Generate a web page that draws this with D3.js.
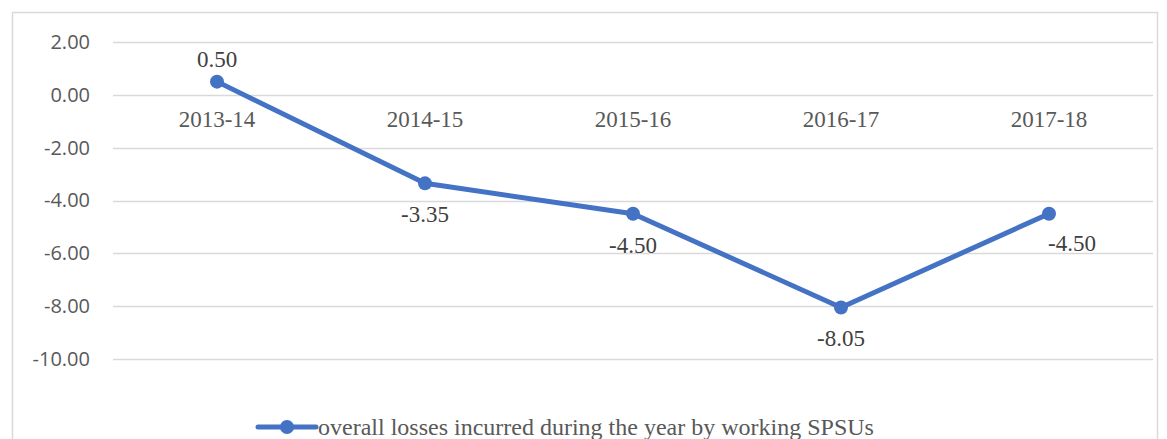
<!DOCTYPE html>
<html>
<head>
<meta charset="utf-8">
<script src="https://cdn.jsdelivr.net/npm/d3@7"></script>
<style>
  body { margin: 0; background: #fff; }
  svg { display: block; }
</style>
</head>
<body>
<div id="chart"></div>
<script>
// Chart data
const years = ["2013-14", "2014-15", "2015-16", "2016-17", "2017-18"];
const losses = [0.50, -3.35, -4.50, -8.05, -4.50];
const yTicks = [2, 0, -2, -4, -6, -8, -10];
const seriesName = "overall losses incurred during the year by working SPSUs";

const width = 1167;
const height = 439;
const blue = "#4472C4";
const grey = "#595959";

// plain hyphen for negatives, like the original
const fmt = d3.formatLocale({ decimal: ".", thousands: ",", grouping: [3], currency: ["", ""], minus: "-" }).format(".2f");

const svg = d3.select("#chart").append("svg")
    .attr("width", width)
    .attr("height", height);

// Outer chart border
svg.append("rect")
    .attr("x", 12.5).attr("y", 12.5)
    .attr("width", 1145).attr("height", 440)
    .attr("fill", "none")
    .attr("stroke", "#d9d9d9")
    .attr("stroke-width", 1.5);

const x = d3.scaleBand()
    .domain(years)
    .range([113, 1153]);

const y = d3.scaleLinear()
    .domain([-10, 2])
    .range([359, 42]);

// Gridlines
svg.append("g")
    .selectAll("line")
    .data(yTicks)
    .enter()
    .append("line")
    .attr("x1", 113)
    .attr("x2", 1153)
    .attr("y1", d => Math.round(y(d)) + 0.5)
    .attr("y2", d => Math.round(y(d)) + 0.5)
    .attr("stroke", "#d9d9d9")
    .attr("stroke-width", 1.5);

// Y axis labels
const yAxis = d3.axisLeft(y)
    .tickValues(yTicks)
    .tickFormat(fmt)
    .tickSize(0)
    .tickPadding(0);

const yg = svg.append("g")
    .attr("transform", "translate(90,0)")
    .call(yAxis);
yg.select(".domain").remove();
yg.selectAll("text")
    .attr("fill", grey)
    .attr("font-family", "'Open Sans', 'Liberation Sans', sans-serif")
    .attr("font-size", 20);

// Category labels sit just under the zero line
const xAxis = d3.axisBottom(x).tickSize(0).tickPadding(0);
const xg = svg.append("g")
    .attr("transform", `translate(0,${y(0) + 16})`)
    .call(xAxis);
xg.select(".domain").remove();
xg.selectAll("text")
    .attr("fill", grey)
    .attr("font-family", "'Liberation Serif', 'Times New Roman', serif")
    .attr("font-size", 23);

const cx = d => x(d) + x.bandwidth() / 2;

// Line
const line = d3.line()
    .x((d, i) => cx(years[i]))
    .y(d => y(d));

svg.append("path")
    .datum(losses)
    .attr("d", line)
    .attr("fill", "none")
    .attr("stroke", blue)
    .attr("stroke-width", 5)
    .attr("stroke-linejoin", "round");

svg.selectAll("circle.pt")
    .data(losses)
    .enter()
    .append("circle")
    .attr("class", "pt")
    .attr("cx", (d, i) => cx(years[i]))
    .attr("cy", d => y(d))
    .attr("r", 7)
    .attr("fill", blue);

// Data labels (offsets follow the original placement)
const labelOffsets = [[0, -15], [0, 39], [0, 39], [0, 39], [23, 37]];
svg.selectAll("text.lbl")
    .data(losses)
    .enter()
    .append("text")
    .attr("class", "lbl")
    .attr("x", (d, i) => cx(years[i]) + labelOffsets[i][0])
    .attr("y", (d, i) => y(d) + labelOffsets[i][1])
    .attr("text-anchor", "middle")
    .attr("fill", "#404040")
    .attr("font-family", "'Liberation Serif', 'Times New Roman', serif")
    .attr("font-size", 23)
    .text(d => fmt(d));

// Legend
const legend = svg.append("g").attr("transform", "translate(258,427)");
legend.append("line")
    .attr("x1", 0).attr("x2", 58)
    .attr("y1", 0).attr("y2", 0)
    .attr("stroke", blue)
    .attr("stroke-width", 5)
    .attr("stroke-linecap", "round");
legend.append("circle")
    .attr("cx", 29).attr("cy", 0).attr("r", 7)
    .attr("fill", blue);
legend.append("text")
    .attr("x", 60).attr("y", 8)
    .attr("fill", grey)
    .attr("font-family", "'Liberation Serif', 'Times New Roman', serif")
    .attr("font-size", 24)
    .text(seriesName);
</script>
</body>
</html>
